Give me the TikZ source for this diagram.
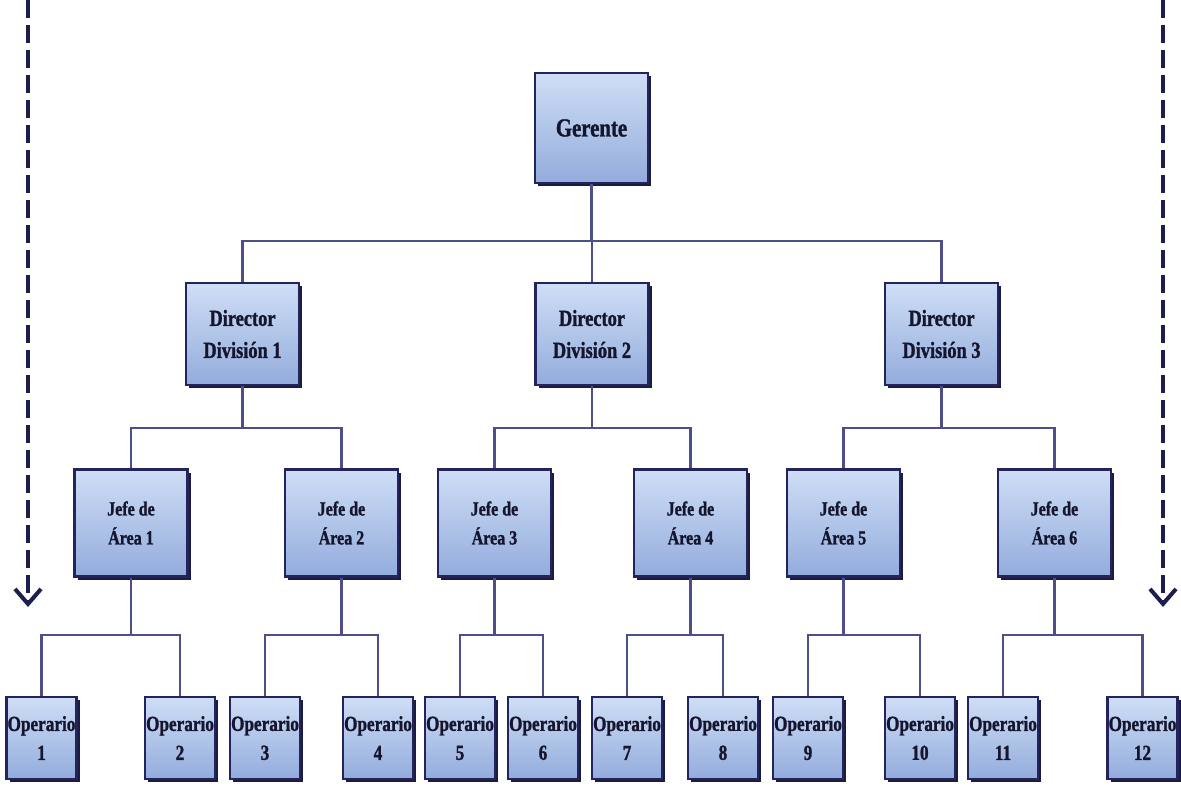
\documentclass[tikz,border=0pt]{standalone}
\usepackage{fontspec}
\setmainfont{Liberation Serif}
\newfontfamily\boxfont{Liberation Serif}[FakeStretch=0.8, FakeBold=1.2]
\usetikzlibrary{arrows.meta,shadows}

\definecolor{boxline}{HTML}{23235E}
\definecolor{boxtop}{HTML}{CFDEF6}
\definecolor{boxmid}{HTML}{AAC3EA}
\definecolor{boxbot}{HTML}{93ACDC}
\definecolor{shadowc}{HTML}{1C1C40}
\definecolor{connc}{HTML}{4E4E8A}
\definecolor{flowc}{HTML}{1E1E4E}
\definecolor{txtc}{HTML}{15152E}

\tikzset{
  orgbox/.style={draw=boxline, line width=2.2pt,
    top color=boxtop, middle color=boxmid, bottom color=boxbot,
    drop shadow={shadow xshift=3pt, shadow yshift=-3pt, fill=shadowc, opacity=1},
    align=center, inner sep=0pt, text=txtc},
  gerbox/.style={orgbox, minimum width=113pt, minimum height=110pt,
    font=\boxfont\bfseries\fontsize{26}{30}\selectfont},
  dirbox/.style={orgbox, minimum width=113pt, minimum height=102pt,
    font=\boxfont\bfseries\fontsize{23}{32}\selectfont},
  jefbox/.style={orgbox, minimum width=113pt, minimum height=107pt,
    font=\boxfont\bfseries\fontsize{20}{29}\selectfont},
  opbox/.style={orgbox, minimum width=70pt, minimum height=82pt,
    font=\boxfont\bfseries\fontsize{21.5}{29}\selectfont},
  conn/.style={draw=connc, line width=2.2pt},
  flow/.style={draw=flowc, line width=4pt, dash pattern=on 18pt off 7pt,
    -{Straight Barb[length=15pt, width=26pt, line width=4pt]}}
}

\begin{document}
\begin{tikzpicture}[x=1pt, y=-1pt]
  \fill[white] (0,0) rectangle (1181,791);
  \useasboundingbox (0,0) rectangle (1181,791);

  % levels of the horizontal bus lines
  \coordinate (busA) at (0,241);
  \coordinate (busB) at (0,428);
  \coordinate (busC) at (0,635);

  % dashed flow arrows on both sides
  \coordinate (la0) at (28,0);
  \coordinate (la1) at (28,607);
  \coordinate (ra0) at (1163,0);
  \coordinate (ra1) at (1163,607);
  \draw[flow] (la0) -- (la1);
  \draw[flow] (ra0) -- (ra1);

  % boxes
  \node[gerbox] (ger) at (591.5,128) {Gerente};

  \node[dirbox] (d1) at (242.5,334) {Director\\División 1};
  \node[dirbox] (d2) at (592,334)   {Director\\División 2};
  \node[dirbox] (d3) at (941.5,334) {Director\\División 3};

  \node[jefbox] (j1) at (131,523)    {Jefe de\\Área 1};
  \node[jefbox] (j2) at (341.5,523)  {Jefe de\\Área 2};
  \node[jefbox] (j3) at (494.5,523)  {Jefe de\\Área 3};
  \node[jefbox] (j4) at (690.5,523)  {Jefe de\\Área 4};
  \node[jefbox] (j5) at (843.5,523)  {Jefe de\\Área 5};
  \node[jefbox] (j6) at (1054.5,523) {Jefe de\\Área 6};

  \foreach \n/\x in {1/41.5, 2/180, 3/265, 4/378, 5/460, 6/543,
                     7/627, 8/723, 9/808, 10/920, 11/1003, 12/1142.5}
    \node[opbox] (o\n) at (\x,738) {Operario\\\n};

  % Gerente to directors
  \draw[conn] (ger.south) -- (ger.south |- busA);
  \draw[conn] (d1.north) |- (d3.north |- busA) -- (d3.north);
  \draw[conn] (d2.north) -- (d2.north |- busA);

  % directors to area heads
  \foreach \d/\a/\b in {d1/j1/j2, d2/j3/j4, d3/j5/j6} {
    \draw[conn] (\d.south) -- (\d.south |- busB);
    \draw[conn] (\a.north) |- (\b.north |- busB) -- (\b.north);
  }

  % area heads to operators
  \foreach \j/\a/\b in {j1/o1/o2, j2/o3/o4, j3/o5/o6,
                        j4/o7/o8, j5/o9/o10, j6/o11/o12} {
    \draw[conn] (\j.south) -- (\j.south |- busC);
    \draw[conn] (\a.north) |- (\b.north |- busC) -- (\b.north);
  }
\end{tikzpicture}
\end{document}
